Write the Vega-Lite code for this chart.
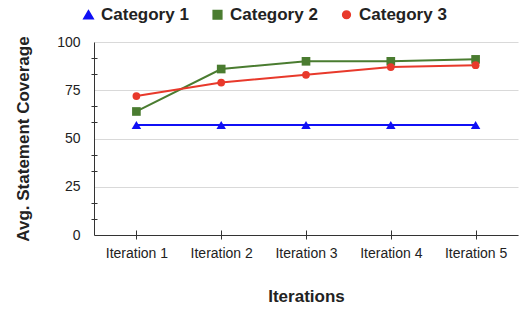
{
  "$schema": "https://vega.github.io/schema/vega-lite/v6.json",
  "width": 424,
  "height": 193,
  "autosize": "none",
  "padding": {"left": 94, "top": 42, "right": 9, "bottom": 76},
  "background": "white",
  "config": {
    "font": "Liberation Sans",
    "view": {"stroke": null}
  },
  "data": {
    "values": [
      {"iteration": "Iteration 1", "category": "Category 1", "coverage": 57},
      {"iteration": "Iteration 2", "category": "Category 1", "coverage": 57},
      {"iteration": "Iteration 3", "category": "Category 1", "coverage": 57},
      {"iteration": "Iteration 4", "category": "Category 1", "coverage": 57},
      {"iteration": "Iteration 5", "category": "Category 1", "coverage": 57},
      {"iteration": "Iteration 1", "category": "Category 2", "coverage": 64},
      {"iteration": "Iteration 2", "category": "Category 2", "coverage": 86},
      {"iteration": "Iteration 3", "category": "Category 2", "coverage": 90},
      {"iteration": "Iteration 4", "category": "Category 2", "coverage": 90},
      {"iteration": "Iteration 5", "category": "Category 2", "coverage": 91},
      {"iteration": "Iteration 1", "category": "Category 3", "coverage": 72},
      {"iteration": "Iteration 2", "category": "Category 3", "coverage": 79},
      {"iteration": "Iteration 3", "category": "Category 3", "coverage": 83},
      {"iteration": "Iteration 4", "category": "Category 3", "coverage": 87},
      {"iteration": "Iteration 5", "category": "Category 3", "coverage": 88}
    ]
  },
  "layer": [
    {
      "mark": {"type": "line", "strokeWidth": 2},
      "encoding": {
        "x": {
          "field": "iteration", "type": "ordinal",
          "scale": {"type": "point", "padding": 0.5},
          "axis": {
            "title": "Iterations", "titleFontSize": 17, "titleFontWeight": "bold", "titleColor": "#222",
            "titlePadding": 28,
            "labelAngle": 0, "labelFontSize": 14, "labelColor": "#222", "labelPadding": 11,
            "ticks": false, "grid": false, "domainColor": "#333", "domainWidth": 1
          }
        },
        "y": {
          "field": "coverage", "type": "quantitative",
          "scale": {"domain": [0, 100], "nice": false},
          "axis": {
            "title": "Avg. Statement Coverage", "titleFontSize": 17, "titleFontWeight": "bold", "titleColor": "#222",
            "titlePadding": 24,
            "values": [0, 25, 50, 75, 100],
            "labelFontSize": 14, "labelColor": "#222", "labelPadding": 14,
            "ticks": false, "grid": true, "gridColor": "#d9d9d9", "gridWidth": 1,
            "domainColor": "#333", "domainWidth": 1
          }
        },
        "color": {
          "field": "category", "type": "nominal",
          "scale": {"domain": ["Category 1", "Category 2", "Category 3"], "range": ["#1010f5", "#4a7c30", "#e8392b"]},
          "legend": {
            "title": null, "orient": "none", "direction": "horizontal",
            "legendX": -14, "legendY": -36,
            "labelFontSize": 17, "labelFontWeight": "bold", "labelColor": "#222",
            "symbolSize": 45, "columnPadding": 20, "labelOffset": 4
          }
        },
        "detail": {"field": "category"}
      }
    },
    {
      "mark": {"type": "point", "filled": true, "opacity": 1},
      "encoding": {
        "x": {
          "field": "iteration", "type": "ordinal",
          "axis": {
            "title": null, "labels": false, "domain": false, "grid": false,
            "ticks": true, "tickSize": 9, "offset": -5, "tickColor": "#333", "orient": "bottom"
          }
        },
        "y": {
          "field": "coverage", "type": "quantitative",
          "axis": {
            "title": null, "labels": false, "domain": false, "grid": false, "orient": "left",
            "values": [8.333, 16.667, 33.333, 41.667, 58.333, 66.667, 83.333, 91.667],
            "ticks": true, "tickSize": 6, "offset": -3, "tickColor": "#333"
          }
        },
        "color": {"field": "category", "type": "nominal"},
        "shape": {
          "field": "category", "type": "nominal",
          "scale": {"domain": ["Category 1", "Category 2", "Category 3"], "range": ["triangle-up", "square", "circle"]}
        },
        "size": {
          "field": "category", "type": "nominal",
          "scale": {"domain": ["Category 1", "Category 2", "Category 3"], "range": [90, 60, 135]},
          "legend": null
        }
      }
    }
  ],
  "resolve": {"axis": {"x": "independent", "y": "independent"}}
}
